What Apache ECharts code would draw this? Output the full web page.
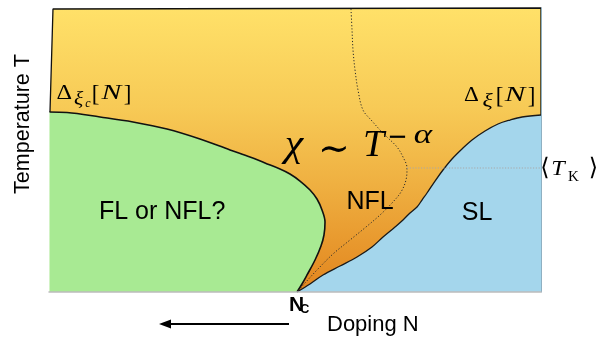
<!DOCTYPE html>
<html>
<head>
<meta charset="utf-8">
<script src="https://cdn.jsdelivr.net/npm/echarts@6/dist/echarts.min.js"></script>
<style>
  html, body { margin: 0; padding: 0; background: #fff; }
  #chart { width: 610px; height: 339px; }
</style>
</head>
<body>
<div id="chart"></div>
<script>
// Doping N (x) and temperature T (y), both on a 0..100 scale.

// Outer boundary of the diagram: left edge, top edge, right edge
const frameN = [0.20, 0.81, 100, 100];
const frameT = [63.38, 99.65, 100, 62.32];

// Crossover Δξc[N] bounding the "FL or NFL?" region, ending at N_c
const fermiN = [0.10, 3.66, 10.37, 17.07, 23.98, 30.69, 36.79, 40.85, 43.90, 46.95,
  48.98, 51.02, 53.05, 54.47, 55.49, 56.10, 55.89, 55.28, 54.07, 52.44, 51.42, 50.41];
const fermiT = [63.38, 63.20, 61.62, 59.86, 57.39, 53.87, 50.00, 47.54, 45.42, 43.31,
  41.55, 39.08, 35.92, 32.75, 28.87, 24.65, 20.07, 16.20, 11.27, 5.99, 2.82, 0];

// Crossover Δξ[N] bounding the spin-liquid (SL) region, starting at N_c
const spinN = [50.41, 53.05, 55.69, 59.15, 62.60, 65.65, 67.89, 70.33, 71.95, 73.37,
  74.80, 75.81, 76.83, 78.46, 80.08, 81.91, 83.94, 85.98, 88.62, 91.26, 93.70, 96.14, 100];
const spinT = [0, 2.82, 5.99, 9.15, 12.32, 15.85, 19.37, 22.89, 25.35, 27.82,
  29.93, 32.39, 34.86, 39.08, 42.96, 46.83, 50.35, 53.52, 56.69, 59.15, 60.56, 61.62, 62.32];

// Dotted crossover running through the NFL fan
const crossN = [61.38, 61.59, 61.79, 62.20, 62.80, 63.82, 65.65, 67.28, 68.70, 70.73, 71.95,
  72.76, 72.56, 71.54, 69.72, 67.28, 64.43, 61.18, 57.72, 54.47, 52.03, 50.41];
const crossT = [99.65, 92.25, 85.21, 78.17, 71.13, 64.08, 60.21, 57.04, 54.58, 51.06, 47.54,
  43.66, 39.44, 35.21, 31.34, 27.11, 22.89, 18.31, 13.38, 7.75, 3.17, 0];

// Average Kondo temperature level
const kondoN = [72.76, 100];
const kondoT = 43.66;

const pairs = (xs, ys) => xs.map((x, i) => [x, Array.isArray(ys) ? ys[i] : ys]);

const serif = '"Liberation Serif", "DejaVu Serif", serif';
const sans = '"Liberation Sans", Arial, sans-serif';

// Helper for positioned text pieces (y is the centre of the line box)
function txt(text, x, y, size, opts) {
  opts = opts || {};
  return {
    type: 'text', x: x, y: y, rotation: opts.rotation || 0, z: 100,
    scaleX: opts.sx || 1,
    style: {
      text: text, fill: '#000',
      fontSize: size, fontFamily: opts.family || sans,
      fontStyle: opts.italic ? 'italic' : 'normal',
      fontWeight: opts.bold ? 'bold' : 'normal',
      align: opts.align || 'center', verticalAlign: 'middle'
    }
  };
}

const chart = echarts.init(document.getElementById('chart'));
chart.setOption({
  animation: false,
  backgroundColor: '#fff',
  grid: { left: 49, top: 8, right: 69, bottom: 47 },
  xAxis: {
    type: 'value', min: 0, max: 100, z: 10,
    axisLine: { show: true, onZero: false, lineStyle: { color: '#bcbcbc', width: 1.5 } },
    axisTick: { show: false }, axisLabel: { show: false }, splitLine: { show: false }
  },
  yAxis: {
    type: 'value', min: 0, max: 100, position: 'right', z: 10,
    axisLine: { show: true, onZero: false, lineStyle: { color: '#8fb0c2', width: 1 } },
    axisTick: { show: false }, axisLabel: { show: false }, splitLine: { show: false }
  },
  series: [
    {
      name: 'NFL', type: 'line', data: pairs(frameN, frameT), symbol: 'none', clip: false, z: 1,
      lineStyle: { color: '#111', width: 1.3 },
      areaStyle: {
        opacity: 1,
        color: { type: 'linear', x: 0, y: 0, x2: 0, y2: 1, colorStops: [
          { offset: 0, color: '#FFE169' },
          { offset: 0.35, color: '#F7CA56' },
          { offset: 0.62, color: '#EFB041' },
          { offset: 1, color: '#E2851E' }
        ] }
      }
    },
    {
      name: 'FL or NFL?', type: 'line', data: pairs(fermiN, fermiT), symbol: 'none',
      smooth: 0.35, clip: false, z: 2,
      lineStyle: { color: '#111', width: 1.6 },
      areaStyle: { color: '#A8EA93', opacity: 1 }
    },
    {
      name: 'SL', type: 'line', data: pairs(spinN, spinT), symbol: 'none',
      smooth: 0.35, clip: false, z: 2,
      lineStyle: { color: '#1a1a1a', width: 1.3 },
      areaStyle: { color: '#A4D6EC', opacity: 1 }
    },
    {
      name: 'crossover', type: 'line', data: pairs(crossN, crossT), symbol: 'none',
      smooth: 0.35, clip: false, z: 3,
      lineStyle: { color: '#2a2a2a', width: 1, type: [1.2, 2] }
    },
    {
      name: 'TK', type: 'line', data: pairs(kondoN, kondoT), symbol: 'none', clip: false, z: 3,
      lineStyle: { color: '#a8a8a8', width: 1, type: [1.2, 1.6] }
    }
  ],
  graphic: [
    txt('Temperature T', 23.5, 124, 21.5, { rotation: Math.PI / 2 }),
    txt('Doping N', 327, 325, 22, { align: 'left' }),
    txt('N', 289, 305.5, 21, { bold: true, align: 'left' }),
    txt('C', 300, 309, 13, { bold: true, align: 'left' }),
    { type: 'line', z: 100, shape: { x1: 289, y1: 324, x2: 168, y2: 324 },
      style: { stroke: '#000', lineWidth: 1.8 } },
    { type: 'polygon', z: 100, shape: { points: [[159, 324], [171, 319.5], [171, 328.5]] },
      style: { fill: '#000' } },
    txt('FL or NFL?', 99, 212.5, 25, { align: 'left' }),
    txt('NFL', 370, 202.5, 25),
    txt('SL', 477, 213, 25),
    // χ ∼ T^(−α)
    txt('χ', 294, 146.2, 38, { family: serif, italic: true, sx: 1.1 }),
    txt('∼', 334, 151, 38, { family: serif }),
    txt('T', 373.5, 146.2, 38, { family: serif, italic: true }),
    txt('−', 397.5, 138, 27, { family: '"DejaVu Sans", sans-serif', sx: 0.9 }),
    txt('α', 423, 135.9, 28, { family: serif, italic: true, sx: 1.25 }),
    // Δ_{ξc}[N]
    txt('Δ', 64.3, 93.6, 22, { family: serif, sx: 1.1 }),
    txt('ξ', 78.5, 99.2, 18, { family: serif, italic: true, sx: 1.2 }),
    txt('c', 88, 104.3, 12, { family: serif, italic: true }),
    txt('[', 95.5, 94.5, 23, { family: serif }),
    txt('N', 111.5, 93.6, 22, { family: serif, italic: true, sx: 1.35 }),
    txt(']', 127.5, 94.5, 23, { family: serif }),
    // Δ_ξ[N]
    txt('Δ', 471.5, 95.6, 22, { family: serif, sx: 1.05 }),
    txt('ξ', 487.5, 101, 19, { family: serif, italic: true, sx: 1.25 }),
    txt('[', 499.5, 96.5, 23, { family: serif }),
    txt('N', 515, 95.6, 22, { family: serif, italic: true, sx: 1.4 }),
    txt(']', 531.5, 96.5, 23, { family: serif }),
    // ⟨T_K⟩
    txt('⟨', 545, 169, 24, { family: serif }),
    txt('T', 558, 169.6, 22, { family: serif, italic: true, sx: 1.1 }),
    txt('K', 573.5, 177, 15, { family: serif }),
    txt('⟩', 593.5, 169, 24, { family: serif })
  ]
});
</script>
</body>
</html>
